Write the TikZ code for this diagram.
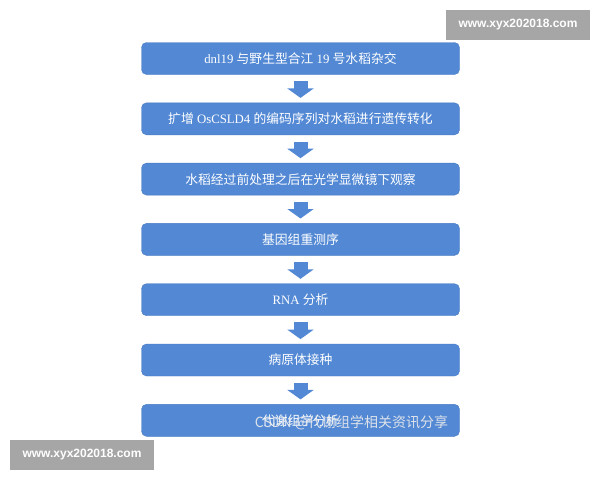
\documentclass[tikz,border=0pt]{standalone}
\usepackage{fontspec}
\setmainfont{Liberation Serif}
\newfontfamily\cjk{Noto Sans CJK SC}
\newfontfamily\wmfont{Liberation Sans}
\usetikzlibrary{arrows.meta}
\definecolor{boxblue}{RGB}{82,136,212}
\definecolor{boxedge}{RGB}{72,122,196}
\definecolor{markgray}{RGB}{166,166,166}
\tikzset{
	stepbox/.style={rectangle,rounded corners=5pt,draw=boxedge,fill=boxblue,minimum width=318pt,minimum height=32pt,inner sep=0pt,text=white,font=\fontsize{12.8}{14}\selectfont},
	flow/.style={draw=boxblue,line width=14pt,-{Triangle[length=9.5pt,width=26pt]},shorten <=6.5pt,shorten >=4.7pt},
	markbox/.style={rectangle,fill=markgray,text=white,minimum width=144pt,minimum height=30pt,inner sep=0pt,font=\wmfont\bfseries\fontsize{12}{14}\selectfont},
	csdn/.style={text=white!85!gray,opacity=0.9,inner sep=0pt,font=\cjk\fontsize{14}{16}\selectfont}
	}
\begin{document}
\begin{tikzpicture}[x=1pt,y=-1pt]
		\useasboundingbox (0,0) rectangle (600,480);
		\node[stepbox] (s1) at (300.5,58.5) {dnl19 {\cjk 与野生型合江} 19 {\cjk 号水稻杂交}};
		\node[stepbox] (s2) at (300.5,118.8) {{\cjk 扩增} OsCSLD4 {\cjk 的编码序列对水稻进行遗传转化}};
		\node[stepbox] (s3) at (300.5,179.1) {\cjk 水稻经过前处理之后在光学显微镜下观察};
		\node[stepbox] (s4) at (300.5,239.4) {\cjk 基因组重测序};
		\node[stepbox] (s5) at (300.5,299.7) {RNA {\cjk 分析}};
		\node[stepbox] (s6) at (300.5,360) {\cjk 病原体接种};
		\node[stepbox] (s7) at (300.5,420.3) {\cjk 代谢组学分析};
		\draw[flow] (s1) -- (s2);
		\draw[flow] (s2) -- (s3);
		\draw[flow] (s3) -- (s4);
		\draw[flow] (s4) -- (s5);
		\draw[flow] (s5) -- (s6);
		\draw[flow] (s6) -- (s7);
		% watermarks
		\node[csdn] (wm) at (351.5,423) {CSDN @代谢组学相关资讯分享};
		\node[markbox] (m1) at (518,25) {www.xyx202018.com};
		\node[markbox] (m2) at (82,455) {www.xyx202018.com};
\end{tikzpicture}
\end{document}
